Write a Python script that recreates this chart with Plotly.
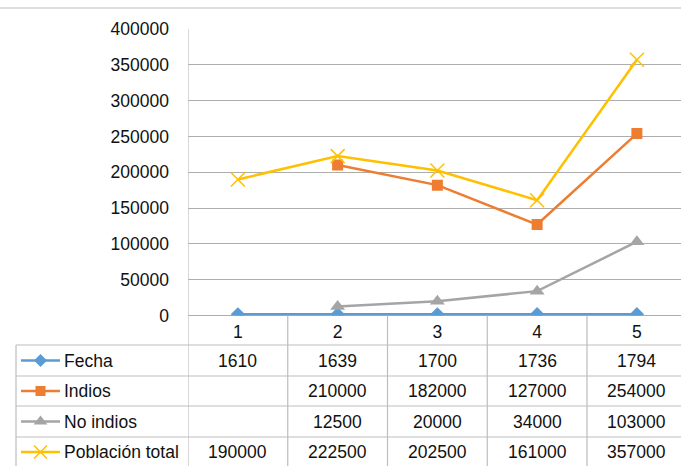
import plotly.graph_objects as go

# ---------------- data ----------------
categories = [1, 2, 3, 4, 5]
series_names = ["Fecha", "Indios", "No indios", "Población total"]
fecha = [1610, 1639, 1700, 1736, 1794]
indios = [None, 210000, 182000, 127000, 254000]
no_indios = [None, 12500, 20000, 34000, 103000]
poblacion_total = [190000, 222500, 202500, 161000, 357000]
y_ticks = [0, 50000, 100000, 150000, 200000, 250000, 300000, 350000, 400000]

# ---------------- style ----------------
W, H = 681, 466
FONT = "Liberation Sans"
FS = 17.5
TXT = "#111111"
GRID = "#ADADAD"
BORDER = "#BDBDBD"
colors = ["#5B9BD5", "#ED7D31", "#A5A5A5", "#FFC000"]
symbols = ["diamond", "square", "triangle-up", "x-thin-open"]
msizes = [11, 11, 13, 14]

plot_left, plot_top, plot_zero = 188, 29, 315.5
cat_w = 99.75
x_range = [0.5, 0.5 + (W - plot_left) / cat_w]

fig = go.Figure()
all_series = [fecha, indios, no_indios, poblacion_total]
for name, vals, c, s, ms in zip(series_names, all_series, colors, symbols, msizes):
    marker = dict(symbol=s, size=ms, color=c)
    if s.startswith("x"):
        marker["line"] = dict(color=c, width=1.5)
    fig.add_trace(go.Scatter(
        x=categories, y=vals, mode="lines+markers", name=name,
        line=dict(color=c, width=2.5), marker=marker,
        connectgaps=False, showlegend=False, xaxis="x", yaxis="y"))

# legend keys inside the data table (pixel overlay axes)
row_tops = [345, 376, 406, 437, 467]
row_centers = [(row_tops[i] + row_tops[i + 1]) / 2 for i in range(4)]
for i, (c, s, ms) in enumerate(zip(colors, symbols, msizes)):
    marker = dict(symbol=s, size=ms - 1, color=c)
    if s.startswith("x"):
        marker["line"] = dict(color=c, width=1.5)
    fig.add_trace(go.Scatter(
        x=[21, 60], y=[row_centers[i]] * 2, mode="lines",
        line=dict(color=c, width=2.5), showlegend=False,
        hoverinfo="skip", xaxis="x2", yaxis="y2"))
    fig.add_trace(go.Scatter(
        x=[40.5], y=[row_centers[i]], mode="markers", marker=marker,
        showlegend=False, hoverinfo="skip", xaxis="x2", yaxis="y2"))

shapes = []
# top separator line
shapes.append(dict(type="line", xref="x2", yref="y2", x0=0, x1=W, y0=8, y1=8,
                   line=dict(color=BORDER, width=1.2)))
# plot left border (extends through table)
shapes.append(dict(type="line", xref="x", yref="y2", x0=0.5, x1=0.5,
                   y0=plot_top, y1=H, line=dict(color=BORDER, width=1.2)))
# category boundaries below axis
for k in categories:
    shapes.append(dict(type="line", xref="x", yref="y2", x0=k + 0.5, x1=k + 0.5,
                       y0=plot_zero, y1=H, line=dict(color=BORDER, width=1.2)))
# table horizontal lines and left border
for yt in row_tops[:4]:
    shapes.append(dict(type="line", xref="x2", yref="y2", x0=16, x1=W,
                       y0=yt, y1=yt, line=dict(color=BORDER, width=1.2)))
shapes.append(dict(type="line", xref="x2", yref="y2", x0=16, x1=16,
                   y0=row_tops[0], y1=H, line=dict(color=BORDER, width=1.2)))

annotations = []
for i, name in enumerate(series_names):
    annotations.append(dict(xref="x2", yref="y2", x=62, y=row_centers[i],
                            text=name, showarrow=False, xanchor="left",
                            yanchor="middle", font=dict(family=FONT, size=FS, color=TXT)))
    for k, v in zip(categories, all_series[i]):
        annotations.append(dict(xref="x", yref="y2", x=k, y=row_centers[i],
                                text="" if v is None else str(v), showarrow=False,
                                xanchor="center", yanchor="middle",
                                font=dict(family=FONT, size=FS, color=TXT)))

fig.update_layout(
    template="none",
    width=W, height=H, margin=dict(l=0, r=0, t=0, b=0, pad=0, autoexpand=False),
    paper_bgcolor="white", plot_bgcolor="rgba(0,0,0,0)",
    font=dict(family=FONT, size=FS, color=TXT),
    xaxis=dict(domain=[plot_left / W, 1], range=x_range, tickvals=categories,
               ticktext=[str(c) for c in categories], showgrid=False,
               zeroline=False, showline=False, ticks="", anchor="y",
               automargin=False,
               ticklabelstandoff=4, tickfont=dict(family=FONT, size=FS, color=TXT)),
    yaxis=dict(domain=[(H - plot_zero) / H, (H - plot_top) / H], range=[0, 400000],
               tickvals=y_ticks, ticktext=[str(v) for v in y_ticks],
               showgrid=True, gridcolor=GRID, gridwidth=1.2,
               zeroline=True, zerolinecolor=GRID, zerolinewidth=1.2,
               showline=False, ticks="", anchor="x", ticklabelstandoff=18,
               automargin=False,
               tickfont=dict(family=FONT, size=FS, color=TXT)),
    xaxis2=dict(domain=[0, 1], range=[0, W], visible=False, anchor="y2",
                automargin=False),
    yaxis2=dict(domain=[0, 1], range=[H, 0], visible=False, anchor="x2",
                automargin=False),
    shapes=shapes, annotations=annotations,
)

fig.write_html("out.html")
